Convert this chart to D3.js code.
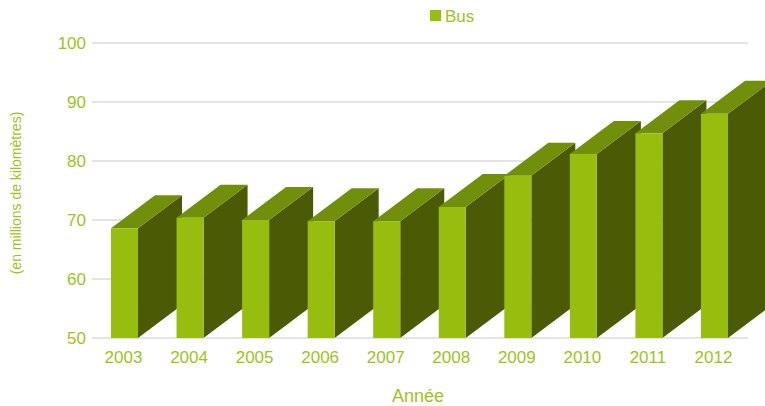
<!DOCTYPE html>
<html>
<head>
<meta charset="utf-8">
<script src="https://cdn.jsdelivr.net/npm/d3@7/dist/d3.min.js"></script>
<style>
  html, body { margin: 0; padding: 0; background: #ffffff; }
  svg { display: block; font-family: "Liberation Sans", Arial, sans-serif; }
</style>
</head>
<body>
<svg id="chart" width="765" height="406"></svg>
<script>
const years = ["2003","2004","2005","2006","2007","2008","2009","2010","2011","2012"];
const busValues = [68.6, 70.4, 70.0, 69.8, 69.8, 72.2, 77.5, 81.2, 84.7, 88.0];
const yTicks = [50, 60, 70, 80, 90, 100];
const seriesName = "Bus";
const xTitle = "Année";
const yTitle = "(en millions de kilomètres)";

(function () {
const plotLeft = 92, plotRight = 747, plotTop = 43, plotBottom = 338;
const depthX = 44, depthY = -33;
const textColor = "#9cc31e";
const frontColor = "#97be0e";
const topColor = "#718f0b";
const sideColor = "#4b5b05";

const svg = d3.select("#chart");

const x = d3.scaleBand().domain(years).range([plotLeft, plotRight])
  .paddingInner(0.588).paddingOuter(0.29);
const y = d3.scaleLinear().domain([50, 100]).range([plotBottom, plotTop]);

// gridlines
svg.append("g").selectAll("line").data(yTicks).join("line")
  .attr("x1", plotLeft).attr("x2", 748)
  .attr("y1", d => y(d)).attr("y2", d => y(d))
  .attr("stroke", "#c9c9c9").attr("stroke-width", 1.2);

// y tick labels
svg.append("g").selectAll("text").data(yTicks).join("text")
  .attr("x", 86).attr("y", d => y(d))
  .attr("dy", "0.36em")
  .attr("text-anchor", "end")
  .attr("fill", textColor)
  .attr("font-size", 17)
  .text(d => d);

// bars (3D)
const bw = x.bandwidth();
const bars = svg.append("g").selectAll("g").data(years.map((yr, i) => ({yr, v: busValues[i]}))).join("g");
bars.append("path")
  .attr("fill", sideColor)
  .attr("d", d => {
    const x1 = x(d.yr) + bw, yt = y(d.v), yb = y(50);
    return `M${x1},${yt}L${x1+depthX},${yt+depthY}L${x1+depthX},${yb+depthY}L${x1},${yb}Z`;
  });
bars.append("path")
  .attr("fill", topColor)
  .attr("d", d => {
    const x0 = x(d.yr), x1 = x0 + bw, yt = y(d.v);
    return `M${x0},${yt}L${x0+depthX},${yt+depthY}L${x1+depthX},${yt+depthY}L${x1},${yt}Z`;
  });
bars.append("rect")
  .attr("fill", frontColor)
  .attr("x", d => x(d.yr)).attr("width", bw)
  .attr("y", d => y(d.v)).attr("height", d => y(50) - y(d.v));

// x labels
svg.append("g").selectAll("text").data(years).join("text")
  .attr("x", d => x(d) + bw / 2 - 1).attr("y", 363)
  .attr("text-anchor", "middle")
  .attr("fill", textColor)
  .attr("font-size", 17)
  .text(d => d);

// axis titles
svg.append("text")
  .attr("x", 418).attr("y", 402)
  .attr("text-anchor", "middle")
  .attr("fill", textColor)
  .attr("font-size", 18)
  .text(xTitle);

svg.append("text")
  .attr("transform", "translate(21,193) rotate(-90)")
  .attr("text-anchor", "middle")
  .attr("fill", textColor)
  .attr("font-size", 14)
  .text(yTitle);

// legend
svg.append("rect")
  .attr("x", 430).attr("y", 10).attr("width", 11).attr("height", 11)
  .attr("fill", frontColor);
svg.append("text")
  .attr("x", 445).attr("y", 22)
  .attr("fill", textColor)
  .attr("font-size", 17)
  .text(seriesName);
})();
</script>
</body>
</html>
